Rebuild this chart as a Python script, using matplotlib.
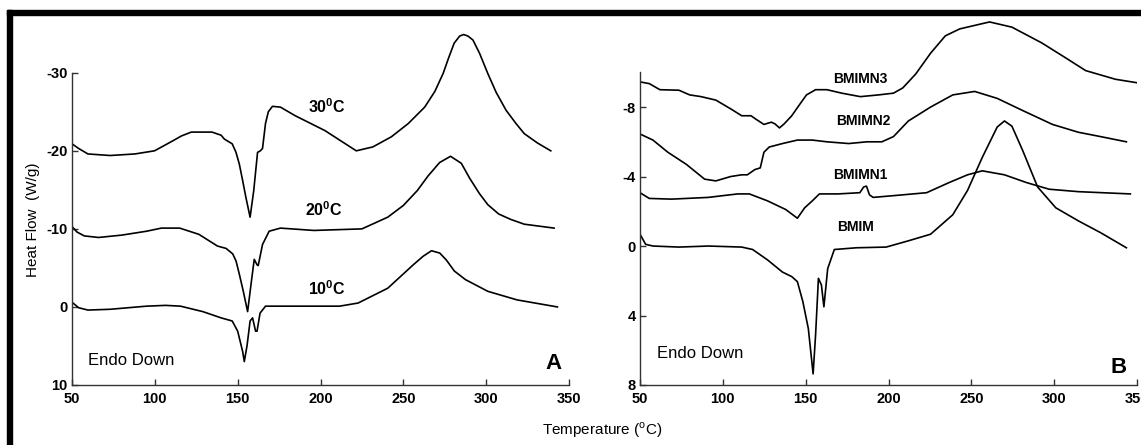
import matplotlib.pyplot as plt
from matplotlib.patches import Rectangle

# panel A: DSC curves at three cooling temperatures
t30 = [50, 54, 59.6, 73, 88, 99.8, 105, 111, 116, 122, 134.5, 140, 142, 146.7, 149, 151, 153, 155, 157.5, 159.7, 162, 163.7, 165, 166.8, 168.5, 171, 175.8, 184.7, 202.6, 221.6, 231.6, 242.8, 253, 262.9, 269, 274, 277.5, 280.7, 284, 286.4, 289, 292, 296, 301, 306, 312, 318, 323, 331, 339]
hf30 = [-20.9, -20.3, -19.6, -19.4, -19.6, -20.0, -20.6, -21.3, -21.9, -22.4, -22.4, -22.0, -21.5, -20.9, -19.8, -18.3, -16.2, -14.0, -11.5, -14.9, -19.8, -20.0, -20.3, -23.5, -25.0, -25.7, -25.6, -24.5, -22.6, -20.0, -20.5, -21.8, -23.5, -25.6, -27.6, -29.9, -32.0, -33.8, -34.7, -34.9, -34.7, -34.2, -32.5, -29.9, -27.5, -25.2, -23.5, -22.2, -21.0, -20.0]

t20 = [50, 53, 57.4, 66, 80, 95, 104, 115, 126.6, 137.8, 143, 147, 149, 151, 153.4, 156, 158.3, 160, 161.7, 162.4, 165, 169, 175.8, 196, 225, 240.6, 250, 258.4, 265, 271.9, 278.5, 285, 290, 296, 301, 307.6, 315, 323, 341]
hf20 = [-10.3, -9.6, -9.1, -8.9, -9.2, -9.7, -10.1, -10.1, -9.3, -7.8, -7.5, -6.8, -5.9, -4.2, -2.0, 0.6, -3.3, -6.1, -5.4, -5.3, -8.0, -9.7, -10.1, -9.8, -10.0, -11.5, -13.0, -14.9, -16.8, -18.5, -19.3, -18.4, -16.5, -14.5, -13.1, -11.9, -11.2, -10.6, -10.1]

t10 = [50, 54, 59.6, 73, 95, 106.5, 115.5, 129, 140, 146.7, 150, 153, 154, 155.7, 157.5, 159, 160.8, 161.7, 163.5, 166.8, 184.7, 211.5, 222.7, 240.6, 256, 262, 267, 272, 276, 280.8, 287.5, 301, 318.7, 343]
hf10 = [-0.6, 0.1, 0.4, 0.3, -0.1, -0.2, -0.1, 0.6, 1.4, 1.8, 3.1, 5.7, 7.0, 4.9, 1.8, 1.4, 3.1, 3.1, 0.8, -0.1, -0.1, -0.1, -0.5, -2.4, -5.4, -6.5, -7.2, -6.9, -6.0, -4.6, -3.5, -2.0, -0.9, 0.0]

# panel B: BMIM and nanocomposites
tn3 = [50, 55.6, 62, 73.5, 80, 86.9, 95.8, 104.7, 111.4, 117, 120, 124.8, 129.3, 131.5, 134.2, 137, 141.6, 146, 150.5, 156, 162.8, 171.8, 183, 194, 203, 208.6, 216.4, 225.4, 234.3, 243, 261, 274.5, 292.4, 305.8, 319, 337, 350]
hn3 = [-9.45, -9.35, -9.0, -8.97, -8.7, -8.6, -8.4, -7.9, -7.5, -7.5, -7.3, -7.0, -7.13, -7.03, -6.8, -7.03, -7.5, -8.1, -8.7, -9.0, -9.0, -8.8, -8.6, -8.7, -8.8, -9.1, -9.9, -11.1, -12.1, -12.5, -12.9, -12.6, -11.7, -10.9, -10.1, -9.6, -9.4]

tn2 = [50, 55.6, 57.8, 66.8, 78, 89, 95.8, 104.7, 111.4, 114.8, 119.3, 122.6, 124.8, 128, 136, 145, 154, 162.8, 176, 187, 196, 203, 212, 225.4, 238.8, 252, 265.6, 281, 299, 314.6, 328, 343.6]
hn2 = [-6.45, -6.2, -6.1, -5.4, -4.7, -3.85, -3.75, -4.0, -4.1, -4.1, -4.4, -4.5, -5.4, -5.7, -5.9, -6.1, -6.1, -6.0, -5.9, -6.0, -6.0, -6.3, -7.2, -8.0, -8.7, -8.9, -8.5, -7.8, -7.0, -6.55, -6.3, -6.0]

tn1 = [50, 55.6, 69, 91.3, 100, 109, 116, 127, 138, 145, 149.4, 154, 158.3, 169.5, 182.7, 185, 186.7, 188.5, 190.7, 203, 223, 236.5, 247.7, 256.6, 270, 283.4, 297, 314.6, 346]
hn1 = [-3.07, -2.74, -2.7, -2.8, -2.9, -3.0, -3.0, -2.6, -2.1, -1.6, -2.2, -2.6, -3.0, -3.0, -3.07, -3.4, -3.45, -2.95, -2.8, -2.9, -3.07, -3.65, -4.1, -4.33, -4.1, -3.65, -3.27, -3.13, -3.0]

tb = [50, 53.4, 57.8, 73.5, 91.3, 111.4, 118, 127, 136, 141.6, 145, 148.3, 151.6, 154.5, 156, 157.7, 159.5, 161, 163.3, 167.3, 180.7, 198.6, 212, 225.4, 238.8, 247.7, 256.6, 265.6, 270, 274.5, 281, 290, 301, 314.6, 328, 343.6]
hb = [-0.68, -0.1, 0.0, 0.06, 0.0, 0.06, 0.2, 0.8, 1.5, 1.76, 2.05, 3.2, 4.75, 7.36, 5.1, 1.86, 2.24, 3.5, 1.3, 0.2, 0.1, 0.06, -0.3, -0.68, -1.8, -3.2, -5.1, -6.85, -7.2, -6.9, -5.5, -3.4, -2.2, -1.45, -0.77, 0.1]

xticks = [50, 100, 150, 200, 250, 300, 350]
yticks_a = [-30, -20, -10, 0, 10]
yticks_b = [-8, -4, 0, 4, 8]

plt.rcParams['font.family'] = ['Liberation Sans', 'DejaVu Sans']
plt.rcParams['axes.unicode_minus'] = False

W, H = 1141, 445
fig = plt.figure(figsize=(W / 100, H / 100), dpi=100)

def setup(ax, yticks, ylim, ybounds):
    ax.set_xlim(50, 350)
    ax.set_ylim(*ylim)
    ax.spines['top'].set_visible(False)
    ax.spines['right'].set_visible(False)
    ax.spines['left'].set_bounds(*ybounds)
    for s in ['left', 'bottom']:
        ax.spines[s].set_color('#333333')
        ax.spines[s].set_linewidth(1.0)
    ax.set_xticks(xticks)
    ax.set_yticks(yticks)
    ax.tick_params(direction='in', length=4, width=1, color='#333333', labelsize=10.5)
    ax.tick_params(axis='x', pad=5)
    ax.tick_params(axis='y', pad=3)
    for lab in ax.get_xticklabels() + ax.get_yticklabels():
        lab.set_fontweight('bold')
    ax.patch.set_alpha(0)

axA = fig.add_axes([72 / W, 60 / H, (569 - 72) / W, 370 / H])
axA.plot(t30, hf30, color='black', lw=1.2)
axA.plot(t20, hf20, color='black', lw=1.2)
axA.plot(t10, hf10, color='black', lw=1.2)
setup(axA, yticks_a, (10, -37.4), (10, -30))
axA.text(204, -25.6, '30$^\\mathregular{0}$C', fontsize=11.5, fontweight='bold', ha='center', va='center')
axA.text(202, -12.5, '20$^\\mathregular{0}$C', fontsize=11.5, fontweight='bold', ha='center', va='center')
axA.text(204, -2.4, '10$^\\mathregular{0}$C', fontsize=11.5, fontweight='bold', ha='center', va='center')
axA.text(86, 6.8, 'Endo Down', fontsize=12, ha='center', va='center')
axA.text(340.5, 8.6, 'A', fontsize=16, fontweight='bold', ha='center', va='bottom')

axB = fig.add_axes([640 / W, 60 / H, (1137 - 640) / W, 370 / H])
axB.plot(tn3, hn3, color='black', lw=1.2)
axB.plot(tn2, hn2, color='black', lw=1.2)
axB.plot(tn1, hn1, color='black', lw=1.2)
axB.plot(tb, hb, color='black', lw=1.2)
setup(axB, yticks_b, (8, -13.3), (8, -10))
axB.text(183, -9.6, 'BMIMN3', fontsize=10, fontweight='bold', ha='center', va='center')
axB.text(184.7, -7.2, 'BMIMN2', fontsize=10, fontweight='bold', ha='center', va='center')
axB.text(183, -4.1, 'BMIMN1', fontsize=10, fontweight='bold', ha='center', va='center')
axB.text(180, -1.1, 'BMIM', fontsize=10, fontweight='bold', ha='center', va='center')
axB.text(86.4, 6.2, 'Endo Down', fontsize=12, ha='center', va='center')
axB.text(339, 7.6, 'B', fontsize=16, fontweight='bold', ha='center', va='bottom')

fig.text(33 / W, 1 - 220 / H, 'Heat Flow  (W/g)', rotation=90, fontsize=11, ha='center', va='center')
fig.text(602 / W, 1 - 430 / H, 'Temperature ($^\\mathregular{o}$C)', fontsize=11, ha='center', va='center')

# black frame at top and left
fig.patches.append(Rectangle((7 / W, 1 - 15 / H), 1, 5 / H, transform=fig.transFigure, color='black', zorder=10))
fig.patches.append(Rectangle((7 / W, 0), 5 / W, 1 - 10 / H, transform=fig.transFigure, color='black', zorder=10))

fig.savefig('out.png', dpi=100)
